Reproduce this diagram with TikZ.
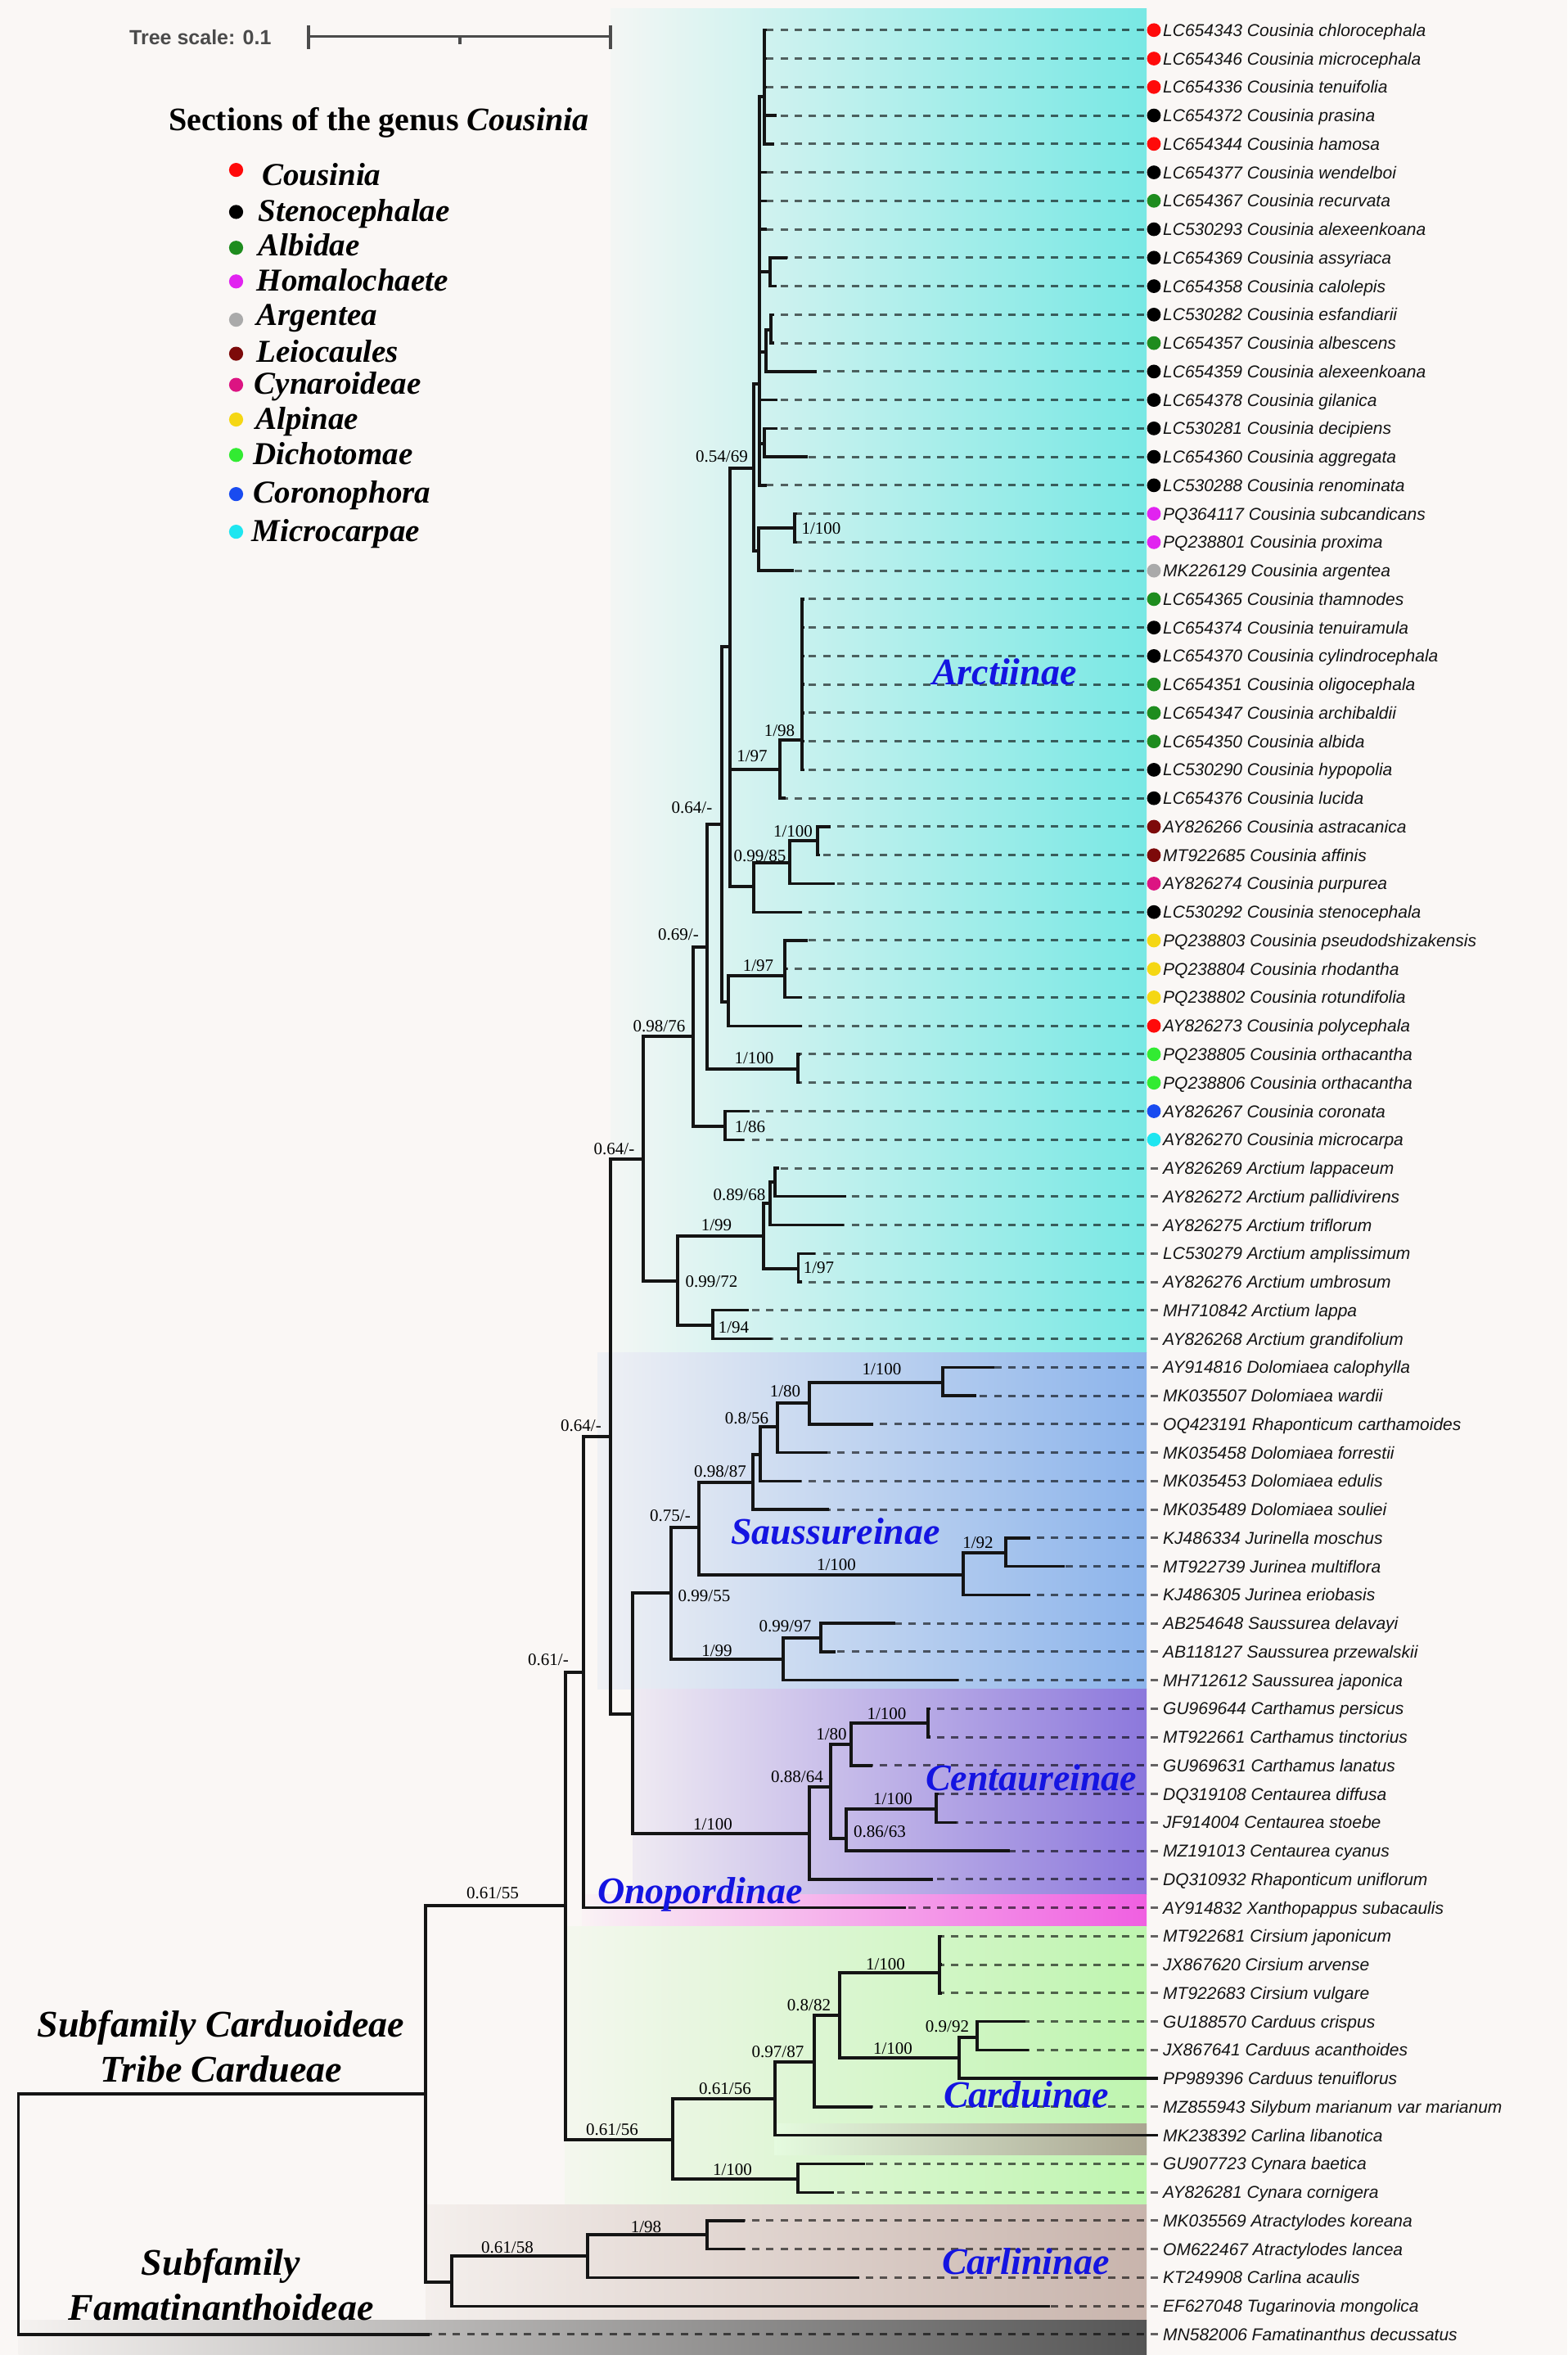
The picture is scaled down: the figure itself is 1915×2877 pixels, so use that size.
\documentclass[tikz,border=0pt]{standalone}
\usepackage{fontspec}
\setmainfont{Liberation Serif}
\newfontfamily\labfont{Liberation Sans}
\definecolor{pagebg}{RGB}{250,247,245}
\definecolor{cRed}{RGB}{255,10,10}
\definecolor{cBlk}{RGB}{0,0,0}
\definecolor{cGrn}{RGB}{30,140,30}
\definecolor{cMag}{RGB}{225,35,240}
\definecolor{cGry}{RGB}{170,170,170}
\definecolor{cDrd}{RGB}{125,10,10}
\definecolor{cPnk}{RGB}{220,20,130}
\definecolor{cYel}{RGB}{245,215,20}
\definecolor{cLgr}{RGB}{50,235,50}
\definecolor{cBlu}{RGB}{25,75,240}
\definecolor{cCyn}{RGB}{30,230,240}
\definecolor{subtc}{RGB}{20,20,225}
\definecolor{arcC}{RGB}{120,232,228}
\definecolor{sauC}{RGB}{140,180,235}
\definecolor{cenC}{RGB}{140,120,220}
\definecolor{onoC}{RGB}{240,95,225}
\definecolor{carC}{RGB}{190,245,175}
\definecolor{libC}{RGB}{170,165,145}
\definecolor{crlC}{RGB}{200,180,172}
\definecolor{famC}{RGB}{85,85,85}
\definecolor{sclC}{RGB}{75,75,75}
\newcommand\rowy[1]{36.8+34.755*(#1-1)}
\begin{document}
\begin{tikzpicture}[x=1pt,y=-1pt,
  br/.style={line width=3.4pt, draw=black!92},
  dsh/.style={line width=3pt, draw=black, draw opacity=0.6, dash pattern=on 9pt off 8.4pt},
  lab/.style={font=\labfont\itshape\fontsize{21}{21}\selectfont, inner sep=0pt, text=black!92, anchor=base west},
  bs/.style={font=\fontsize{21}{21}\selectfont, inner sep=0pt, anchor=base},
  subt/.style={font=\bfseries\itshape\fontsize{46}{46}\selectfont, text=subtc, inner sep=0pt, anchor=base west},
  subf/.style={font=\bfseries\itshape\fontsize{46}{46}\selectfont, text=black, inner sep=0pt, anchor=base},
  leg/.style={font=\bfseries\itshape\fontsize{39}{39}\selectfont, inner sep=0pt, anchor=base west},
  scl/.style={line width=3.5pt, draw=sclC},
  rng/.style args={#1/#2}{left color=pagebg!#2!#1, middle color=pagebg!75!#1, right color=#1}]
\useasboundingbox (0,0) rectangle (1915,2877);
\fill[pagebg] (0,0) rectangle (1915,2877);

% clade ranges
\shade[rng=arcC/95] (746,10.7) rectangle (1401,1652);
\shade[rng=sauC/90] (730,1652) rectangle (1401,2063);
\shade[rng=cenC/90] (773,2063) rectangle (1401,2314);
\shade[rng=onoC/97] (711,2314) rectangle (1401,2353);
\shade[rng=carC/90] (690,2353) rectangle (1401,2693);
\shade[left color=carC!40, right color=libC] (946,2594) rectangle (1401,2632);
\shade[rng=crlC/88] (520,2693) rectangle (1401,2834);
\shade[rng=famC/97] (22.6,2834) rectangle (1401,2877);

% leaves
\foreach \i/\t in {1/937,2/937,3/937,4/949,5/946,6/937,7/937,8/937,9/962,10/949,
 11/946,12/946,13/998,14/950,15/950,16/987,17/937,18/974,19/974,20/970,
 21/983,22/983,23/983,24/983,25/983,26/983,27/983,28/960,29/1015,30/1002,
 31/1020,32/980,33/987,34/962,35/980,36/980,37/978,38/978,39/916,40/909,
 41/952,42/1034,43/1031,44/996,45/980,46/915,47/943,48/1215,49/1193,50/1067,
 51/1011,52/979,53/1013,54/1259,55/1301,56/1259,57/1094,58/1021,59/1171,60/1137,
 61/1137,62/1066,63/1147,64/1169,65/1234,66/1140,67/1107,68/1151,69/1151,70/1151,
 71/1253,72/1257,73/1415,74/1066,75/1415,76/1057,77/1019,78/910,79/910,80/1050,
 81/1283,82/525}{
  \coordinate (L\i) at (\t,{\rowy{\i}});
  \coordinate (E\i) at (1415,{\rowy{\i}});
}
\foreach \i in {1,...,72,74,76,77,78,79,80,81,82}{\draw[dsh] (E\i) -- (L\i);}

% internal nodes
\coordinate (R) at (22.6,2705);
\coordinate (N520) at (520,2558);
\coordinate (N552) at (552,2788);
\coordinate (N718) at (718,2756);
\coordinate (N864) at (864,2730);
\coordinate (N691) at (691,2328);
\coordinate (N822) at (822,2614);
\coordinate (N947) at (947,2564);
\coordinate (N975) at (975,2662);
\coordinate (N995) at (995,2519);
\coordinate (N1026) at (1026,2462);
\coordinate (N1148) at (1148,2410);
\coordinate (N1172) at (1172,2514);
\coordinate (N1194) at (1194,2489);
\coordinate (N713) at (713,2043);
\coordinate (N746) at (746,1755);
\coordinate (N773) at (773,2094);
\coordinate (N989) at (989,2240);
\coordinate (N1015) at (1015,2183);
\coordinate (N1040) at (1040,2131);
\coordinate (N1134) at (1134,2105);
\coordinate (N1034) at (1034,2246);
\coordinate (N1144) at (1144,2210);
\coordinate (N820) at (820,1946);
\coordinate (N957) at (957,2027);
\coordinate (N1003) at (1003,2001);
\coordinate (N854) at (854,1866);
\coordinate (N1177) at (1177,1924);
\coordinate (N1229) at (1229,1897);
\coordinate (N920) at (920,1811);
\coordinate (N929) at (929,1777);
\coordinate (N950) at (950,1743);
\coordinate (N989b) at (989,1714);
\coordinate (N1152) at (1152,1689);
\coordinate (N786) at (786,1416);
\coordinate (N828) at (828,1565);
\coordinate (N871) at (871,1619);
\coordinate (N933) at (933,1510);
\coordinate (N975b) at (975.5,1550);
\coordinate (N941) at (941,1470);
\coordinate (N947b) at (947,1444);
\coordinate (N847) at (847,1266);
\coordinate (N886) at (886,1376);
\coordinate (N864b) at (864,1157);
\coordinate (N975c) at (975,1306);
\coordinate (N882) at (882,1007);
\coordinate (N890) at (890,1224);
\coordinate (N959) at (959,1192);
\coordinate (N892) at (892,790);
\coordinate (N921) at (921,572);
\coordinate (N953) at (953,940);
\coordinate (N921b) at (921,1083);
\coordinate (N965) at (965,1054);
\coordinate (N999) at (999,1027);
\coordinate (N980) at (980,904);
\coordinate (N928) at (928,469);
\coordinate (N927) at (927,673);
\coordinate (N971) at (971,645);
\coordinate (N934) at (934,118);
\coordinate (N941c) at (941,332);
\coordinate (N936) at (936,430);
\coordinate (N942) at (942,403);
\coordinate (N934b) at (934,542);

% branches
\foreach \p/\c in {R/N520,R/L82,N520/N691,N520/N552,N552/N718,N552/L81,N718/N864,N718/L80,
 N864/L78,N864/L79,N691/N713,N691/N822,N822/N947,N822/N975,N975/L76,N975/L77,
 N947/N995,N947/L75,N995/N1026,N995/L74,N1026/N1148,N1026/N1172,N1148/L68,N1148/L69,N1148/L70,
 N1172/N1194,N1172/L73,N1194/L71,N1194/L72,N713/N746,N713/L67,N746/N786,N746/N773,
 N773/N820,N773/N989,N989/N1015,N989/L66,N1015/N1040,N1015/N1034,N1040/N1134,N1040/L62,
 N1134/L60,N1134/L61,N1034/N1144,N1034/L65,N1144/L63,N1144/L64,N820/N854,N820/N957,
 N957/N1003,N957/L59,N1003/L57,N1003/L58,N854/N920,N854/N1177,N1177/N1229,N1177/L56,
 N1229/L54,N1229/L55,N920/N929,N920/L53,N929/N950,N929/L52,N950/N989b,N950/L51,
 N989b/N1152,N989b/L50,N1152/L48,N1152/L49,N786/N847,N786/N828,N828/N933,N828/N871,
 N871/L46,N871/L47,N933/N941,N933/N975b,N975b/L44,N975b/L45,N941/N947b,N941/L43,
 N947b/L41,N947b/L42,N847/N864b,N847/N886,N886/L39,N886/L40,N864b/N882,N864b/N975c,
 N975c/L37,N975c/L38,N882/N892,N882/N890,N890/N959,N890/L36,N959/L33,N959/L34,N959/L35,
 N892/N921,N892/N953,N892/N921b,N921b/N965,N921b/L32,N965/N999,N965/L31,N999/L29,N999/L30,
 N953/N980,N953/L28,N980/L21,N980/L22,N980/L23,N980/L24,N980/L25,N980/L26,N980/L27,
 N921/N928,N921/N927,N927/N971,N927/L20,N971/L18,N971/L19,
 N928/N934,N928/L6,N928/L7,N928/L8,N928/N941c,N928/N936,N928/L14,N928/N934b,N928/L17,
 N934/L1,N934/L2,N934/L3,N934/L4,N934/L5,N941c/L9,N941c/L10,N936/N942,N936/L13,
 N942/L11,N942/L12,N934b/L15,N934b/L16}{\draw[br] (\p) |- (\c);}

% support values
\node[bs] (s1) at (882,564) {0.54/69};
\node[bs] (s2) at (1003.5,652) {1/100};
\node[bs] (s3) at (952.5,899) {1/98};
\node[bs] (s4) at (919,930) {1/97};
\node[bs] (s5) at (845.5,993) {0.64/-};
\node[bs] (s6) at (969,1022) {1/100};
\node[bs] (s7) at (928.5,1052) {0.99/85};
\node[bs] (s8) at (829,1148) {0.69/-};
\node[bs] (s9) at (926.5,1186) {1/97};
\node[bs] (s10) at (805.5,1260) {0.98/76};
\node[bs] (s11) at (921.5,1299) {1/100};
\node[bs] (s12) at (916.5,1383) {1/86};
\node[bs] (s13) at (750.5,1410) {0.64/-};
\node[bs] (s14) at (903.5,1466) {0.89/68};
\node[bs] (s15) at (875.5,1503) {1/99};
\node[bs] (s16) at (1000.5,1555) {1/97};
\node[bs] (s17) at (869.5,1572) {0.99/72};
\node[bs] (s18) at (896.5,1628) {1/94};
\node[bs] (s19) at (1077.5,1679) {1/100};
\node[bs] (s20) at (959.5,1706) {1/80};
\node[bs] (s21) at (912.5,1739) {0.8/56};
\node[bs] (s22) at (710,1748) {0.64/-};
\node[bs] (s23) at (880,1804) {0.98/87};
\node[bs] (s24) at (819,1858) {0.75/-};
\node[bs] (s25) at (1195,1891) {1/92};
\node[bs] (s26) at (1022,1918) {1/100};
\node[bs] (s27) at (860.5,1956) {0.99/55};
\node[bs] (s28) at (959.5,1993) {0.99/97};
\node[bs] (s29) at (876,2023) {1/99};
\node[bs] (s30) at (670,2034) {0.61/-};
\node[bs] (s31) at (1083.5,2100) {1/100};
\node[bs] (s32) at (1016,2125) {1/80};
\node[bs] (s33) at (974,2177) {0.88/64};
\node[bs] (s34) at (1091,2204) {1/100};
\node[bs] (s35) at (871,2235) {1/100};
\node[bs] (s36) at (1075,2244) {0.86/63};
\node[bs] (s37) at (602,2319) {0.61/55};
\node[bs] (s38) at (1082,2406) {1/100};
\node[bs] (s39) at (988.5,2456) {0.8/82};
\node[bs] (s40) at (1157.5,2482) {0.9/92};
\node[bs] (s41) at (1091,2509) {1/100};
\node[bs] (s42) at (950.5,2513) {0.97/87};
\node[bs] (s43) at (886,2558) {0.61/56};
\node[bs] (s44) at (748,2608) {0.61/56};
\node[bs] (s45) at (895,2657) {1/100};
\node[bs] (s46) at (789.5,2727) {1/98};
\node[bs] (s47) at (620,2752) {0.61/58};

% leaf labels with section dots
\foreach \i/\c/\txt in {1/cRed/LC654343 Cousinia chlorocephala,2/cRed/LC654346 Cousinia microcephala,
 3/cRed/LC654336 Cousinia tenuifolia,4/cBlk/LC654372 Cousinia prasina,5/cRed/LC654344 Cousinia hamosa,
 6/cBlk/LC654377 Cousinia wendelboi,7/cGrn/LC654367 Cousinia recurvata,8/cBlk/LC530293 Cousinia alexeenkoana,
 9/cBlk/LC654369 Cousinia assyriaca,10/cBlk/LC654358 Cousinia calolepis,11/cBlk/LC530282 Cousinia esfandiarii,
 12/cGrn/LC654357 Cousinia albescens,13/cBlk/LC654359 Cousinia alexeenkoana,14/cBlk/LC654378 Cousinia gilanica,
 15/cBlk/LC530281 Cousinia decipiens,16/cBlk/LC654360 Cousinia aggregata,17/cBlk/LC530288 Cousinia renominata,
 18/cMag/PQ364117 Cousinia subcandicans,19/cMag/PQ238801 Cousinia proxima,20/cGry/MK226129 Cousinia argentea,
 21/cGrn/LC654365 Cousinia thamnodes,22/cBlk/LC654374 Cousinia tenuiramula,23/cBlk/LC654370 Cousinia cylindrocephala,
 24/cGrn/LC654351 Cousinia oligocephala,25/cGrn/LC654347 Cousinia archibaldii,26/cGrn/LC654350 Cousinia albida,
 27/cBlk/LC530290 Cousinia hypopolia,28/cBlk/LC654376 Cousinia lucida,29/cDrd/AY826266 Cousinia astracanica,
 30/cDrd/MT922685 Cousinia affinis,31/cPnk/AY826274 Cousinia purpurea,32/cBlk/LC530292 Cousinia stenocephala,
 33/cYel/PQ238803 Cousinia pseudodshizakensis,34/cYel/PQ238804 Cousinia rhodantha,35/cYel/PQ238802 Cousinia rotundifolia,
 36/cRed/AY826273 Cousinia polycephala,37/cLgr/PQ238805 Cousinia orthacantha,38/cLgr/PQ238806 Cousinia orthacantha,
 39/cBlu/AY826267 Cousinia coronata,40/cCyn/AY826270 Cousinia microcarpa}{
  \fill[\c] (1410,{\rowy{\i}}) circle[radius=8.4];
  \node[lab] (T\i) at (1421,{\rowy{\i}+7.5}) {\txt};
}
\foreach \i/\txt in {41/AY826269 Arctium lappaceum,42/AY826272 Arctium pallidivirens,43/AY826275 Arctium triflorum,
 44/LC530279 Arctium amplissimum,45/AY826276 Arctium umbrosum,46/MH710842 Arctium lappa,
 47/AY826268 Arctium grandifolium,48/AY914816 Dolomiaea calophylla,49/MK035507 Dolomiaea wardii,
 50/OQ423191 Rhaponticum carthamoides,51/MK035458 Dolomiaea forrestii,52/MK035453 Dolomiaea edulis,
 53/MK035489 Dolomiaea souliei,54/KJ486334 Jurinella moschus,55/MT922739 Jurinea multiflora,
 56/KJ486305 Jurinea eriobasis,57/AB254648 Saussurea delavayi,58/AB118127 Saussurea przewalskii,
 59/MH712612 Saussurea japonica,60/GU969644 Carthamus persicus,61/MT922661 Carthamus tinctorius,
 62/GU969631 Carthamus lanatus,63/DQ319108 Centaurea diffusa,64/JF914004 Centaurea stoebe,
 65/MZ191013 Centaurea cyanus,66/DQ310932 Rhaponticum uniflorum,67/AY914832 Xanthopappus subacaulis,
 68/MT922681 Cirsium japonicum,69/JX867620 Cirsium arvense,70/MT922683 Cirsium vulgare,
 71/GU188570 Carduus crispus,72/JX867641 Carduus acanthoides,73/PP989396 Carduus tenuiflorus,
 74/MZ855943 Silybum marianum var marianum,75/MK238392 Carlina libanotica,76/GU907723 Cynara baetica,
 77/AY826281 Cynara cornigera,78/MK035569 Atractylodes koreana,79/OM622467 Atractylodes lancea,
 80/KT249908 Carlina acaulis,81/EF627048 Tugarinovia mongolica,82/MN582006 Famatinanthus decussatus}{
  \node[lab] (T\i) at (1421,{\rowy{\i}+7.5}) {\txt};
}

% subtribe labels
\node[subt] (arct) at (1139,836) {Arctiinae};
\node[subt] (saus) at (893,1886) {Saussureinae};
\node[subt] (cent) at (1131,2187) {Centaureinae};
\node[subt] (onop) at (730,2325) {Onopordinae};
\node[subt] (card) at (1153,2574) {Carduinae};
\node[subt] (carl) at (1151,2778) {Carlininae};

% subfamily labels
\node[subf] (sf1) at (270,2488) {Subfamily Carduoideae};
\node[subf] (sf2) at (270,2543) {Tribe Cardueae};
\node[subf] (sf3) at (270,2779) {Subfamily};
\node[subf] (sf4) at (270,2834) {Famatinanthoideae};

% tree scale
\node[font=\labfont\bfseries\fontsize{25}{25}\selectfont, text=sclC, inner sep=0pt, anchor=base west] (tsc) at (158,54.5) {Tree scale: 0.1};
\coordinate (sbA) at (377,44.6);
\coordinate (sbB) at (746,44.6);
\draw[scl] (sbA) -- (sbB);
\draw[scl] (377,31) -- (377,60);
\draw[scl] (746,31) -- (746,60);
\draw[scl] (562,44.6) -- (562,54);

% legend
\node[font=\bfseries\fontsize{40}{40}\selectfont, inner sep=0pt, anchor=base west] (legt) at (206,160) {Sections of the genus \textit{Cousinia}};
\foreach \yd/\yb/\xt/\c/\txt [count=\k] in {207.6/226.8/320/cRed/Cousinia,258.9/270/315.6/cBlk/Stenocephalae,
 302.7/312.5/315.6/cGrn/Albidae,343.8/355/313.5/cMag/Homalochaete,390.6/397/313.5/cGry/Argentea,
 432.1/442/313.5/cDrd/Leiocaules,470.1/481/310.6/cPnk/Cynaroideae,512.5/524.5/312/cYel/Alpinae,
 555.8/567/309.4/cLgr/Dichotomae,603.6/614/309.4/cBlu/Coronophora,649.6/661.6/307.3/cCyn/Microcarpae}{
  \fill[\c] (288.5,\yd) circle[radius=8.6];
  \node[leg] (leg\k) at (\xt,\yb) {\txt};
}
\end{tikzpicture}
\end{document}
